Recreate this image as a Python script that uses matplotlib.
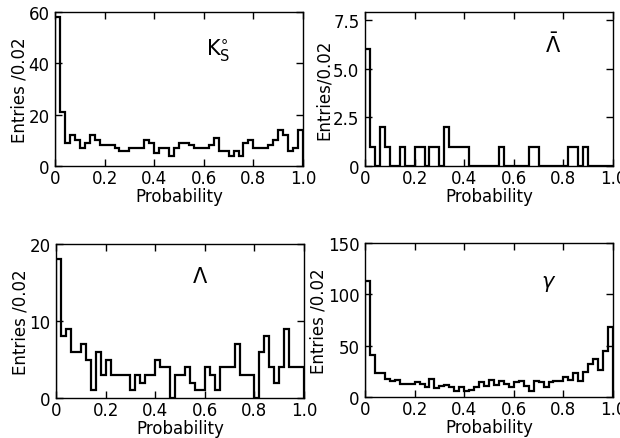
import numpy as np
import matplotlib
matplotlib.use("Agg")
import matplotlib.pyplot as plt

# bin edges: 50 bins of width 0.02
edges = np.linspace(0.0, 1.0, 51)

k0s = [58, 21, 9, 12, 10, 7, 9, 12, 10, 8,
       8, 8, 7, 6, 6, 7, 7, 7, 10, 9,
       5, 7, 7, 4, 7, 9, 9, 8, 7, 7,
       7, 8, 11, 6, 6, 4, 6, 4, 9, 10,
       7, 7, 7, 8, 10, 14, 12, 6, 7, 14]

antilambda = [6, 1, 0, 2, 1, 0, 0, 1, 0, 0,
              1, 1, 0, 1, 1, 0, 2, 1, 1, 1,
              1, 0, 0, 0, 0, 0, 0, 1, 0, 0,
              0, 0, 0, 1, 1, 0, 0, 0, 0, 0,
              0, 1, 1, 0, 1, 0, 0, 0, 0, 0]

lam = [18, 8, 9, 6, 6, 7, 5, 1, 6, 3,
       5, 3, 3, 3, 3, 1, 3, 2, 3, 3,
       5, 4, 4, 0, 3, 3, 4, 2, 1, 1,
       4, 3, 1, 4, 4, 4, 7, 3, 3, 3,
       0, 6, 8, 4, 2, 4, 9, 4, 4, 4]

gamma = [113, 41, 23, 23, 18, 16, 17, 13, 13, 13,
         15, 13, 10, 18, 9, 11, 12, 10, 6, 10,
         6, 7, 10, 15, 11, 17, 12, 16, 13, 10,
         15, 16, 11, 6, 16, 15, 10, 15, 16, 16,
         19, 17, 23, 16, 24, 32, 37, 26, 45, 68]

xticks = [0, 0.2, 0.4, 0.6, 0.8, 1.0]
xticklabels = ["0", "0.2", "0.4", "0.6", "0.8", "1.0"]

plt.rcParams['font.family'] = ['DejaVu Sans']

fig = plt.figure(figsize=(6.2, 4.39), dpi=100)

w = 248 / 620
h = 154 / 439
panels = [
    # left px, bottom px, data, ylim, yticks, yticklabels, ylabel, tag, tag pos
    (55, 167, k0s, 60, [0, 20, 40, 60], ["0", "20", "40", "60"],
     "Entries /0.02", r"K$^{\circ}_{\rm S}$", (0.61, 0.76)),
    (365, 167, antilambda, 7.93, [0, 2.5, 5.0, 7.5], ["0", "2.5", "5.0", "7.5"],
     "Entries/0.02", r"$\bar{\Lambda}$", (0.725, 0.79)),
    (56, 399, lam, 20, [0, 10, 20], ["0", "10", "20"],
     "Entries /0.02", r"$\Lambda$", (0.55, 0.79)),
    (365, 398, gamma, 150, [0, 50, 100, 150], ["0", "50", "100", "150"],
     "Entries /0.02", r"$\gamma$", (0.71, 0.74)),
]

for left, bot, vals, ytop, yt, ytl, ylab, tag, tpos in panels:
    ax = fig.add_axes([left / 620, 1 - bot / 439, w, h])
    ax.stairs(vals, edges, color="black", linewidth=1.6, baseline=0)
    ax.set_xlim(0, 1)
    ax.set_ylim(0, ytop)
    ax.set_xticks(xticks)
    ax.set_xticklabels(xticklabels)
    ax.set_yticks(yt)
    ax.set_yticklabels(ytl)
    ax.tick_params(direction="in", top=True, right=True, length=5, width=1,
                   labelsize=12)
    ax.tick_params(axis="x", pad=2)
    ax.tick_params(axis="y", pad=4)
    for s in ax.spines.values():
        s.set_linewidth(1.0)
    ax.set_xlabel("Probability", fontsize=12, labelpad=0)
    ax.set_ylabel(ylab, fontsize=12, labelpad=0)
    ax.text(tpos[0], tpos[1], tag, transform=ax.transAxes, fontsize=15,
            ha="left", va="center")

fig.savefig("out.png", dpi=100)
